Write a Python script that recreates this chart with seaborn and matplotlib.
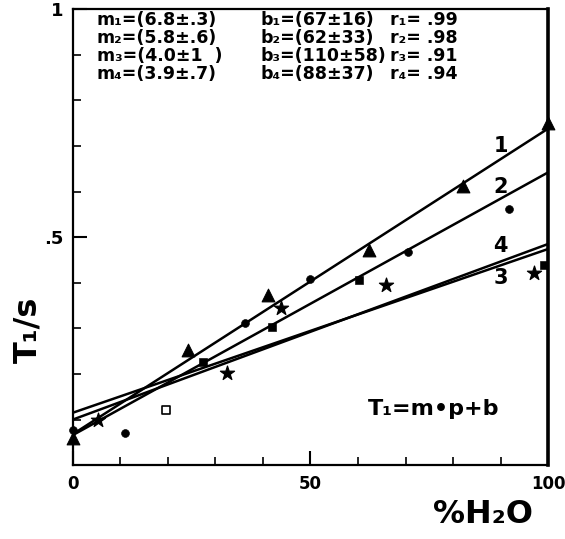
import numpy as np
import pandas as pd
import matplotlib
matplotlib.use("Agg")
import matplotlib.pyplot as plt
import seaborn as sns

# points (x = % H2O, y = T1/s)
tri_x = [0, 24.3, 41.1, 62.4, 82.1, 100]
tri_y = [0.059, 0.252, 0.373, 0.471, 0.612, 0.75]
circ_x = [0, 11, 36.3, 49.8, 70.5, 91.8]
circ_y = [0.077, 0.070, 0.311, 0.408, 0.467, 0.561]
sq_x = [27.4, 42, 60.3, 99.2]
sq_y = [0.226, 0.303, 0.406, 0.440]
open_sq_x = [19.6]
open_sq_y = [0.121]
star_x = [5.3, 32.5, 43.7, 66, 97]
star_y = [0.099, 0.202, 0.344, 0.395, 0.421]

# fitted lines: value at 0 % and at 100 %
line_names = ["1", "2", "3", "4"]
line_start = [0.068, 0.066, 0.115, 0.100]
line_end = [0.738, 0.642, 0.474, 0.485]
label_y = [0.70, 0.61, 0.41, 0.48]

fit_m = ["6.8±.3", "5.8±.6", "4.0±1  ", "3.9±.7"]
fit_b = ["67±16", "62±33", "110±58", "88±37"]
fit_r = [".99", ".98", ".91", ".94"]
subs = ["₁", "₂", "₃", "₄"]

sns.set_style("ticks")
plt.rcParams['font.family'] = ['DejaVu Sans']
plt.rcParams['text.color'] = 'black'
plt.rcParams['axes.labelcolor'] = 'black'

fig = plt.figure(figsize=(5.65, 5.39), dpi=100)
rect = [0.129, 0.137, 0.841, 0.846]
ax = fig.add_axes(rect)

rows = []
for name, y0, y1 in zip(line_names, line_start, line_end):
    rows.append({"line": name, "x": 0, "y": y0})
    rows.append({"line": name, "x": 100, "y": y1})
lines_df = pd.DataFrame(rows)
sns.lineplot(data=lines_df, x="x", y="y", units="line", estimator=None,
             color="black", lw=1.8, ax=ax, legend=False)

kw = dict(color="black", ax=ax, legend=False, clip_on=False, zorder=3)
sns.scatterplot(x=tri_x, y=tri_y, marker="^", s=85, edgecolor="black", **kw)
sns.scatterplot(x=circ_x, y=circ_y, marker="o", s=32, edgecolor="black", **kw)
sns.scatterplot(x=sq_x, y=sq_y, marker="s", s=30, edgecolor="black", **kw)
sns.scatterplot(x=star_x, y=star_y, marker="*", s=115, edgecolor="black", **kw)
ax.scatter(open_sq_x, open_sq_y, marker="s", s=30, facecolor="white",
           edgecolor="black", linewidth=1.2, zorder=3)
ax.set_xlim(0, 100)
ax.set_ylim(0, 1)
ax.set_xticks([])
ax.set_yticks([])
ax.set_xlabel("")
ax.set_ylabel("")
for sp in ax.spines.values():
    sp.set_visible(False)

# fit table in the top part
for i in range(4):
    ty = 0.977 - i * 0.04
    ax.text(0.05, ty, f"m{subs[i]}=({fit_m[i]})", transform=ax.transAxes,
            fontsize=12.5, fontweight="bold", va="center")
    ax.text(0.395, ty, f"b{subs[i]}=({fit_b[i]})", transform=ax.transAxes,
            fontsize=12.5, fontweight="bold", va="center")
    ax.text(0.668, ty, f"r{subs[i]}= {fit_r[i]}", transform=ax.transAxes,
            fontsize=12.5, fontweight="bold", va="center")

# line numbers at the right end
for name, ly in zip(line_names, label_y):
    ax.text(90, ly, name, fontsize=15, fontweight="bold", ha="center",
            va="center")

ax.text(0.62, 0.123, "T₁=m•p+b", transform=ax.transAxes, fontsize=16,
        fontweight="bold", va="center")

# frame and ticks on an overlay axes
frame = fig.add_axes(rect, facecolor="none")
frame.set_xlim(0, 100)
frame.set_ylim(0, 1)
frame.set_xticks([0, 50, 100])
frame.set_xticks(np.arange(10, 100, 10), minor=True)
frame.set_yticks([0.5, 1])
frame.set_yticks(np.arange(0.1, 1.0, 0.1), minor=True)
frame.set_xticklabels(["0", "50", "100"], fontsize=12, fontweight="bold")
frame.set_yticklabels([".5", "1"], fontsize=13, fontweight="bold")
frame.tick_params(which="major", direction="in", length=10, width=1.5,
                  pad=7, colors="black")
frame.tick_params(which="minor", direction="in", length=6, width=1.2,
                  colors="black")
for side in ["left", "bottom", "top"]:
    frame.spines[side].set_linewidth(1.6)
    frame.spines[side].set_color("black")
frame.spines["right"].set_linewidth(2.6)
frame.spines["right"].set_color("black")

frame.set_xlabel("%H₂O", fontsize=23, fontweight="bold")
frame.xaxis.set_label_coords(0.863, -0.075)
frame.set_ylabel("T₁/s", fontsize=23, fontweight="bold")
frame.yaxis.set_label_coords(-0.062, 0.296)

fig.savefig("out.png", dpi=100)
